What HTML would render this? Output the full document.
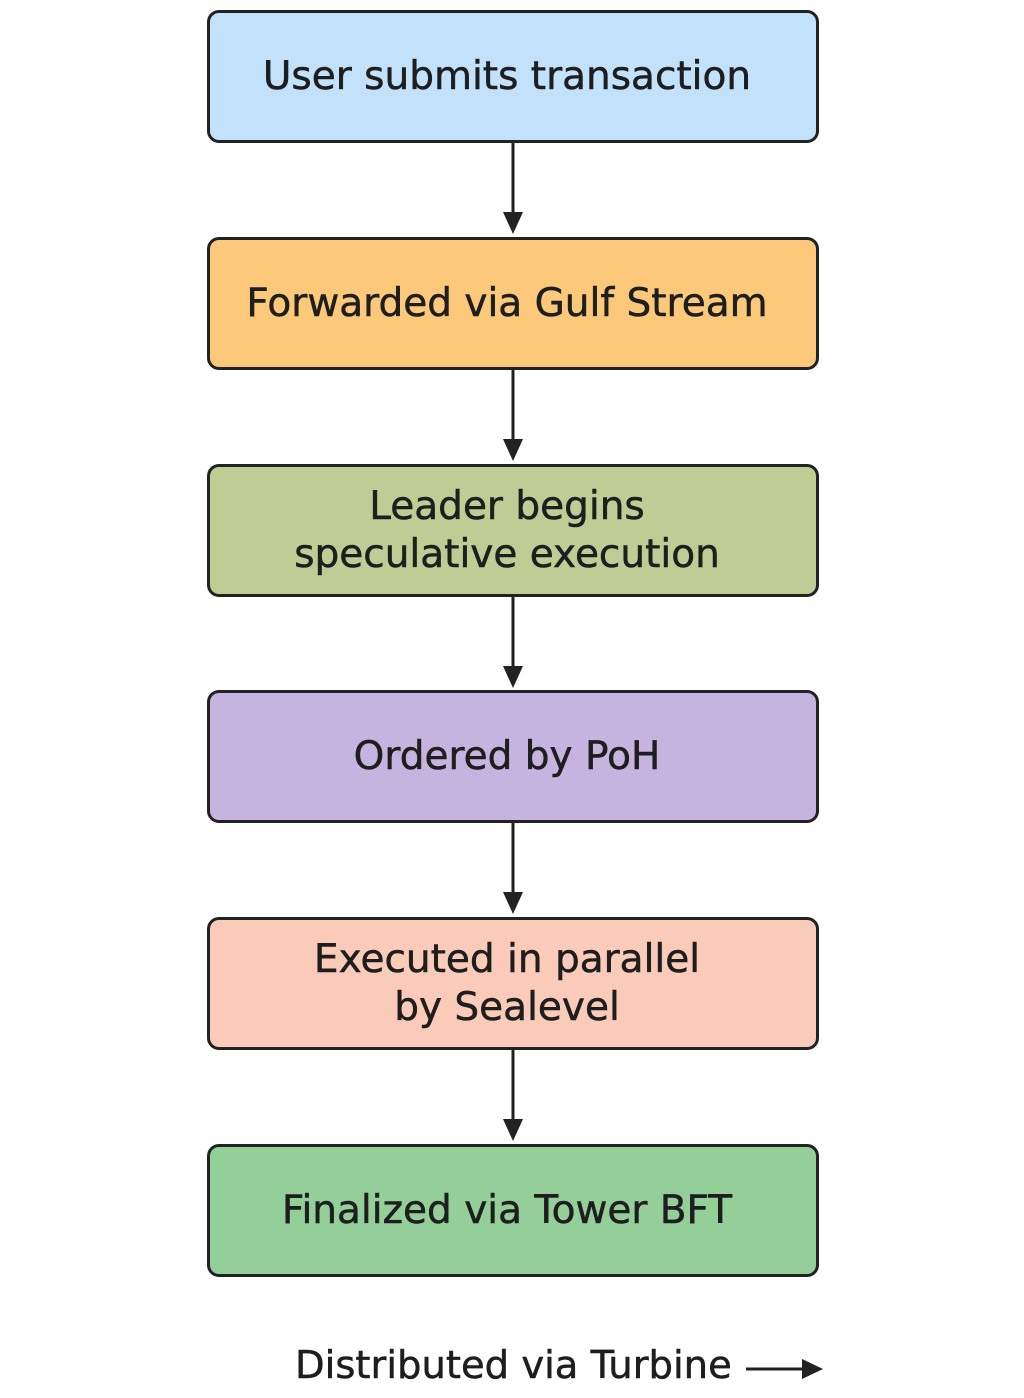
<!DOCTYPE html>
<html><head><style>
body{margin:0;width:1024px;height:1398px;background:#fff;position:relative;font-family:"DejaVu Sans","Liberation Sans",sans-serif;overflow:hidden}
.b{position:absolute;left:207px;width:594px;height:127px;border:3px solid #222;border-radius:12px;display:flex;align-items:center;justify-content:center;text-align:center;font-size:39px;line-height:48px;color:#1e1e1e;padding-right:12px;box-sizing:content-box;-webkit-text-stroke:0.5px #1e1e1e}
.t{position:absolute;font-size:38.5px;color:#1e1e1e;white-space:nowrap;-webkit-text-stroke:0.5px #1e1e1e}
</style></head><body>
<div class="b" style="top:10px;background:#C2E2FB">User submits transaction</div>
<div class="b" style="top:237px;background:#FCC97A">Forwarded via Gulf Stream</div>
<div class="b" style="top:464px;background:#BFCC94">Leader begins<br>speculative execution</div>
<div class="b" style="top:690px;background:#C5B4DF">Ordered by PoH</div>
<div class="b" style="top:917px;background:#FACBB8">Executed in parallel<br>by Sealevel</div>
<div class="b" style="top:1144px;background:#94CF9A">Finalized via Tower BFT</div>
<svg width="1024" height="1398" style="position:absolute;left:0;top:0">
<g stroke="#222" stroke-width="3" fill="#222">
<line x1="513" y1="143" x2="513" y2="216"/><polygon points="503,212 523,212 513,234" stroke="none"/>
<line x1="513" y1="370" x2="513" y2="443"/><polygon points="503,439 523,439 513,461" stroke="none"/>
<line x1="513" y1="597" x2="513" y2="670"/><polygon points="503,666 523,666 513,688" stroke="none"/>
<line x1="513" y1="823" x2="513" y2="896"/><polygon points="503,892 523,892 513,914" stroke="none"/>
<line x1="513" y1="1050" x2="513" y2="1123"/><polygon points="503,1119 523,1119 513,1141" stroke="none"/>
<line x1="746" y1="1369" x2="806" y2="1369"/><polygon points="802,1359 802,1379 823,1369" stroke="none"/>
</g></svg>
<div class="t" style="left:295px;top:1343px">Distributed via Turbine</div>
</body></html>
